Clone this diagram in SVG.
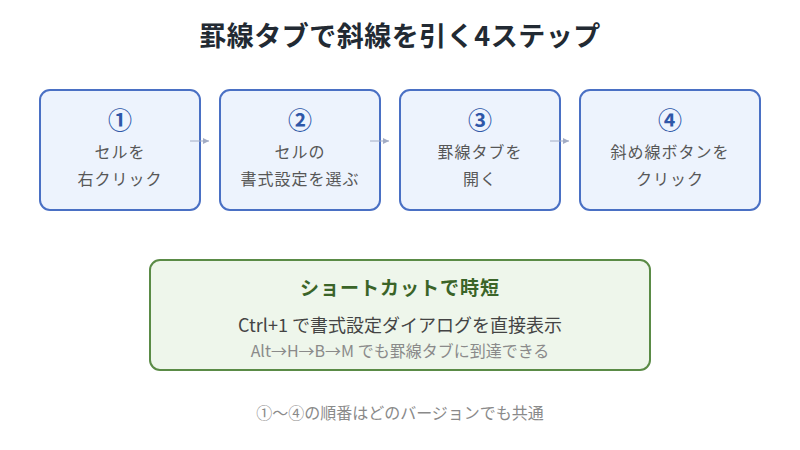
<svg xmlns="http://www.w3.org/2000/svg" width="800" height="450" viewBox="0 0 800 450">
<style>
text{font-family:"Noto Sans CJK JP","Noto Sans",sans-serif;text-anchor:middle}
.step{fill:#edf3fd;stroke:#4a70c4;stroke-width:2}
.num{font-size:24px;font-weight:bold;fill:#2f57a8}
.lbl{font-size:16px;fill:#575757;letter-spacing:1px}
.conn{stroke:#a3acc4;stroke-width:1;fill:none}
</style>
<defs>
<marker id="ah" viewBox="0 0 6 6" refX="6" refY="3" markerWidth="6" markerHeight="6" orient="auto" markerUnits="userSpaceOnUse">
<path d="M0,0 L6,3 L0,6 Z" fill="#a3acc4"/>
</marker>
</defs>
<rect width="800" height="450" fill="#ffffff"/>
<text x="400" y="46" style="font-size:27px;font-weight:bold;fill:#222a33;letter-spacing:0.5px">罫線タブで斜線を引く4ステップ</text>
<g id="step1">
<rect class="step" x="40" y="90" width="160" height="120" rx="10"/>
<text class="num" x="120" y="129">①</text>
<text class="lbl" x="120" y="158">セルを</text>
<text class="lbl" x="120" y="185">右クリック</text>
</g>
<g id="step2">
<rect class="step" x="220" y="90" width="160" height="120" rx="10"/>
<text class="num" x="300" y="129">②</text>
<text class="lbl" x="300" y="158">セルの</text>
<text class="lbl" x="300" y="185">書式設定を選ぶ</text>
</g>
<g id="step3">
<rect class="step" x="400" y="90" width="160" height="120" rx="10"/>
<text class="num" x="480" y="129">③</text>
<text class="lbl" x="480" y="158">罫線タブを</text>
<text class="lbl" x="480" y="185">開く</text>
</g>
<g id="step4">
<rect class="step" x="580" y="90" width="180" height="120" rx="10"/>
<text class="num" x="670" y="129">④</text>
<text class="lbl" x="670" y="158">斜め線ボタンを</text>
<text class="lbl" x="670" y="185">クリック</text>
</g>
<g id="connectors">
<line class="conn" x1="190" y1="141" x2="209" y2="141" marker-end="url(#ah)"/>
<line class="conn" x1="370" y1="141" x2="389" y2="141" marker-end="url(#ah)"/>
<line class="conn" x1="550" y1="141" x2="569" y2="141" marker-end="url(#ah)"/>
</g>
<g id="shortcut">
<rect x="150" y="260" width="500" height="110" rx="10" fill="#eef6eb" stroke="#5a8b46" stroke-width="2"/>
<text x="400" y="295" style="font-size:19px;font-weight:bold;fill:#3a6428;letter-spacing:1px">ショートカットで時短</text>
<text x="400" y="332" style="font-size:18px;fill:#444">Ctrl+1 で書式設定ダイアログを直接表示</text>
<text x="400" y="357" style="font-size:16px;fill:#8a8a8a">Alt→H→B→M でも罫線タブに到達できる</text>
</g>
<text x="400" y="419" style="font-size:16px;fill:#8a8a8a">①〜④の順番はどのバージョンでも共通</text>
</svg>
